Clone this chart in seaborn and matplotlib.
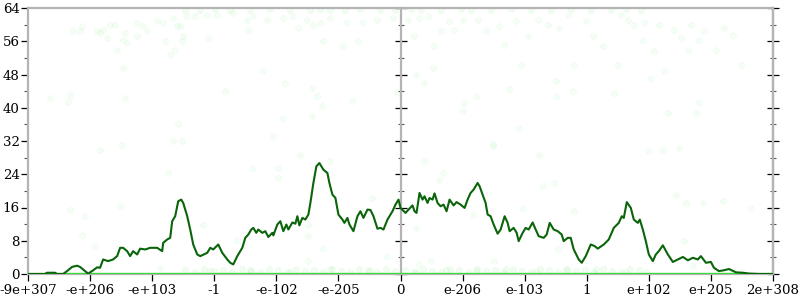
import numpy as np
import pandas as pd
import matplotlib
matplotlib.use("Agg")
import matplotlib.pyplot as plt
from matplotlib.ticker import MultipleLocator, FixedLocator
import seaborn as sns

# ---------------- data ----------------
tick_pos = [-372, -310, -248, -186, -124, -62, 0, 62, 124, 186, 248, 310, 372]
tick_labels = ["-9e+307", "-e+206", "-e+103", "-1", "-e-102", "-e-205", "0",
               "e-206", "e-103", "1", "e+102", "e+205", "2e+308"]

# density curve as (position, value) pairs
line_pts = [(-372, 0), (-355, 0), (-353, 0.3), (-345, 0.3), (-343, 0), (-337, 0),
            (-333, 0.7), (-328, 1.7), (-323, 2.0), (-320, 1.7), (-315, 0.7), (-312, 0.1),
            (-308, 0.7), (-303, 1.6), (-300, 1.5), (-297, 3.5), (-292, 3.1), (-287, 3.5),
            (-283, 4.3), (-280, 6.3), (-277, 6.3), (-273, 5.5), (-270, 4.3), (-267, 5.5),
            (-263, 4.7), (-260, 6.1), (-255, 5.9), (-250, 6.3), (-243, 6.3), (-238, 5.5),
            (-237, 7.5), (-233, 8.3), (-230, 8.7), (-228, 12.7), (-225, 13.9), (-222, 17.5),
            (-219, 17.9), (-217, 17.1), (-213, 13.9), (-210, 10.7), (-207, 7.1), (-203, 4.7),
            (-200, 4.3), (-193, 5.1), (-190, 6.3), (-187, 5.9), (-182, 7.1), (-178, 5.1),
            (-173, 3.5), (-170, 2.7), (-167, 2.3), (-163, 4.3), (-158, 6.3), (-155, 8.7),
            (-152, 9.5), (-149, 10.7), (-147, 11.1), (-144, 9.9), (-142, 10.7), (-138, 9.9),
            (-135, 10.3), (-132, 8.9), (-128, 9.9), (-127, 9.3), (-123, 11.9), (-120, 12.7),
            (-117, 10.3), (-114, 11.9), (-112, 10.7), (-108, 12.4), (-105, 12.1), (-103, 13.9),
            (-101, 11.7), (-98, 13.5), (-95, 13.1), (-92, 14.3), (-90, 17.1), (-87, 21.9),
            (-84, 25.9), (-81, 26.7), (-77, 25.1), (-73, 24.3), (-71, 21.9), (-68, 19.1),
            (-65, 18.3), (-62, 14.3), (-58, 13.1), (-56, 12.3), (-53, 13.5), (-51, 11.9),
            (-47, 10.3), (-43, 13.9), (-40, 15.1), (-37, 13.5), (-33, 15.5), (-30, 15.4),
            (-27, 13.9), (-23, 10.9), (-20, 11.1), (-17, 10.7), (-13, 13.1), (-8, 15.1),
            (-5, 16.7), (-2, 17.9), (0, 15.9), (5, 14.7), (8, 15.5), (12, 16.5), (14, 15.1),
            (16, 14.7), (19, 19.5), (22, 17.9), (24, 18.7), (27, 17.1), (29, 18.3), (32, 17.9),
            (34, 19.4), (37, 17.1), (40, 16.3), (43, 16.7), (46, 15.1), (49, 17.9), (53, 16.5),
            (56, 17.3), (60, 16.7), (64, 15.9), (67, 17.9), (70, 19.5), (73, 20.3), (77, 21.9),
            (79, 21.1), (82, 19.1), (85, 17.1), (87, 14.3), (90, 13.9), (93, 11.9), (97, 9.7),
            (100, 10.7), (104, 13.9), (107, 12.3), (109, 10.3), (113, 11.1), (116, 9.9),
            (118, 7.9), (122, 9.9), (125, 11.1), (128, 10.7), (132, 12.4), (135, 10.7),
            (138, 9.1), (143, 8.7), (146, 9.5), (149, 12.3), (153, 10.7), (157, 10.3),
            (161, 9.5), (163, 7.9), (167, 8.7), (170, 8.7), (173, 5.9), (178, 3.5), (181, 2.7),
            (185, 4.3), (190, 7.1), (194, 6.7), (197, 6.1), (203, 7.1), (208, 8.3), (213, 11.1),
            (218, 12.3), (221, 13.9), (223, 13.5), (226, 17.3), (230, 15.9), (233, 13.1),
            (237, 12.3), (239, 13.1), (242, 10.7), (245, 7.9), (248, 4.7), (252, 3.1),
            (255, 4.7), (258, 5.5), (262, 6.9), (267, 4.7), (272, 2.9), (277, 3.5), (282, 4.1),
            (287, 3.3), (292, 3.9), (297, 3.5), (300, 4.3), (305, 2.7), (310, 2.9), (313, 1.5),
            (318, 0.7), (323, 0.9), (328, 1.2), (335, 0.4), (342, 0.3), (348, 0.1), (358, 0),
            (372, 0)]

base_pos = [-372, 372]
base_val = [0, 0]

# faint sample points, as (position, value) pairs
upper_pts = [(-350, 42.4), (-330, 43.1), (-332, 41.5), (-327, 58.4), (-320, 58.4),
             (-318, 59.6), (-303, 58.4), (-300, 58.0), (-297, 58.8), (-293, 56.8),
             (-290, 60.0), (-285, 60.0), (-283, 54.0), (-277, 56.4), (-275, 58.0),
             (-273, 55.6), (-277, 49.6), (-275, 42.4), (-263, 60.4), (-263, 57.2),
             (-257, 59.6), (-253, 58.4), (-243, 60.8), (-237, 60.4), (-235, 56.0),
             (-230, 52.8), (-227, 61.6), (-225, 54.0), (-223, 59.6), (-222, 36.0),
             (-220, 59.6), (-218, 56.0), (-217, 57.2), (-213, 62.0), (-205, 62.0),
             (-193, 62.4), (-192, 56.8), (-183, 62.4), (-175, 44.0), (-167, 62.8),
             (-153, 61.2), (-152, 58.8), (-147, 62.0), (-137, 48.8), (-133, 61.2),
             (-127, 33.2), (-117, 61.6), (-117, 37.2), (-115, 46.0), (-107, 62.0),
             (-102, 59.2), (-93, 61.2), (-88, 44.8), (-88, 38.0), (-87, 60.0),
             (-83, 42.8), (-80, 60.4), (-78, 40.4), (-77, 56.0), (-70, 61.6),
             (-57, 54.8), (-53, 60.4), (-48, 41.6), (-42, 56.0), (-37, 60.4),
             (-23, 61.2), (-7, 61.6), (-3, 43.6),
             (7, 61.2), (13, 57.2), (15, 48.0), (18, 61.6), (23, 46.0), (27, 62.0),
             (32, 49.6), (33, 54.8), (40, 58.4), (48, 60.8), (53, 58.8), (62, 61.2),
             (62, 39.2), (63, 41.2), (75, 42.8), (77, 61.2), (85, 58.4), (92, 31.2),
             (98, 59.6), (103, 55.2), (108, 44.4), (115, 60.8), (118, 35.2), (120, 50.4),
             (127, 57.2), (137, 61.2), (147, 60.0), (155, 46.4), (155, 42.8), (158, 59.2),
             (167, 62.4), (172, 44.0), (173, 50.4), (185, 60.8), (192, 57.2), (202, 54.8),
             (213, 43.6), (217, 50.4), (220, 62.4), (227, 61.2), (233, 60.0), (242, 56.4),
             (243, 60.4), (250, 46.8), (253, 53.6), (258, 60.0), (263, 48.8), (267, 38.8),
             (273, 58.8), (280, 56.8), (287, 54.0), (290, 60.0), (295, 38.8), (298, 41.2),
             (298, 56.4), (303, 58.4), (315, 54.0), (323, 59.2), (332, 57.6), (340, 50.4)]

middle_pts = [(-300, 29.9), (-330, 15.5), (-315, 13.9), (-318, 9.5), (-305, 6.7),
              (-280, 16.3), (-240, 1.5), (-232, 24.3), (-227, 31.9), (-218, 31.9),
              (-197, 11.9), (-278, 31.1), (-148, 25.5), (-122, 25.5), (-122, 23.1),
              (-100, 28.7), (-92, 11.9), (-92, 9.1), (-70, 27.1), (-77, 6.3), (-92, 3.1),
              (-28, 18.3), (-13, 4.3), (-163, 8.3), (92, 30.7), (138, 28.7), (23, 27.1),
              (42, 24.3), (38, 22.7), (142, 21.1), (153, 21.9), (122, 15.9), (173, 15.1),
              (72, 14.3), (15, 11.1), (157, 5.9), (30, 3.1), (93, 3.1), (18, 2.5),
              (247, 29.5), (262, 29.9), (278, 30.3), (275, 19.1), (285, 17.1), (302, 17.1),
              (322, 17.5), (350, 15.9), (283, 7.9), (292, 1.9)]

top_edge_pts = [(-215, 63.6), (-200, 63.5), (-185, 63.7), (-170, 63.6), (-150, 63.5),
                (-130, 63.7), (-110, 63.6), (-90, 63.5), (-80, 63.7), (-70, 63.6),
                (-55, 63.5), (-40, 63.7), (-20, 63.6), (-5, 63.5), (10, 63.7),
                (20, 63.6), (40, 63.5), (60, 63.7), (70, 63.6), (90, 63.5), (110, 63.7),
                (130, 63.6), (150, 63.5), (170, 63.7), (190, 63.6), (210, 63.5),
                (225, 63.7), (240, 63.6)]

bottom_pts = [(-215, 0.9), (-205, 0.5), (-196, 1.2), (-186, 0.7), (-177, 1.0),
              (-168, 0.4), (-158, 1.3), (-149, 0.8), (-140, 0.6), (-131, 1.1),
              (-122, 0.9), (-113, 0.5), (-104, 1.2), (-95, 0.7), (-86, 1.0), (-77, 0.4),
              (-68, 1.3), (-59, 0.8), (-50, 0.6), (-41, 1.1), (-32, 0.9), (-23, 0.5),
              (-14, 1.2), (-5, 0.7), (4, 1.0), (13, 0.4), (22, 1.3), (31, 0.8), (40, 0.6),
              (49, 1.1), (58, 0.9), (67, 0.5), (76, 1.2), (85, 0.7), (94, 1.0), (103, 0.4),
              (112, 1.3), (121, 0.8), (130, 0.6), (139, 1.1), (148, 0.9), (157, 0.5),
              (166, 1.2), (175, 0.7), (184, 1.0), (193, 0.4), (202, 1.3), (211, 0.8),
              (220, 0.6), (229, 1.1), (238, 0.9), (245, 0.6), (15, 0.5), (45, 1.0),
              (75, 0.7), (105, 1.2), (135, 0.6), (165, 0.9), (195, 1.1), (225, 0.5),
              (-190, 0.8), (-150, 1.0), (-110, 0.6), (-70, 1.2), (-30, 0.8)]

# ---------------- plotting ----------------
sns.set_theme(style="white")
plt.rcParams["font.family"] = ["DejaVu Serif", "DejaVu Sans"]

fig = plt.figure(figsize=(8, 3), dpi=100)
ax = fig.add_axes([28 / 800, 26 / 300, 745 / 800, 266 / 300])

sparse_df = pd.DataFrame(upper_pts + middle_pts, columns=["pos", "val"])
sns.scatterplot(data=sparse_df, x="pos", y="val", ax=ax, color="#44ee44", alpha=0.05,
                s=18, edgecolor="#22cc22", linewidth=0.5, zorder=1, legend=False)

band_df = pd.DataFrame(top_edge_pts + bottom_pts, columns=["pos", "val"])
sns.scatterplot(data=band_df, x="pos", y="val", ax=ax, color="#44ee44", alpha=0.07,
                s=18, edgecolor="#22cc22", linewidth=0.5, zorder=1, legend=False)

base_df = pd.DataFrame({"pos": base_pos, "val": base_val})
sns.lineplot(data=base_df, x="pos", y="val", ax=ax, color="#33e033", linewidth=2.3,
             zorder=3, estimator=None, sort=False)

line_df = pd.DataFrame(line_pts, columns=["pos", "val"])
sns.lineplot(data=line_df, x="pos", y="val", ax=ax, color="#0a640a", linewidth=1.5,
             zorder=4, estimator=None, sort=False)

ax.set_xlim(-372, 372)
ax.set_ylim(0, 64)
ax.set_xlabel("")
ax.set_ylabel("")

ax.xaxis.set_major_locator(FixedLocator(tick_pos))
ax.set_xticklabels(tick_labels)
ax.yaxis.set_major_locator(MultipleLocator(8))
ax.yaxis.set_minor_locator(MultipleLocator(4))

for side in ["left", "right", "top", "bottom"]:
    ax.spines[side].set_color("#b4b4b4")
    ax.spines[side].set_linewidth(1.6)
    ax.spines[side].set_zorder(2)

ax.tick_params(axis="x", which="major", bottom=True, direction="out", length=5,
               width=0.9, color="black", labelsize=9.6, pad=2, labelcolor="black")
ax.tick_params(axis="y", which="major", left=True, direction="out", length=5,
               width=0.9, color="black", labelsize=9.6, pad=1, labelcolor="black")
ax.tick_params(axis="y", which="minor", left=True, direction="out", length=3,
               width=0.8, color="#555555")

ident = (lambda v: v, lambda v: v)
for loc in [0.5, 1.0]:
    sec = ax.secondary_yaxis(loc, functions=ident)
    sec.set_zorder(1)
    sec.yaxis.set_major_locator(MultipleLocator(8))
    sec.yaxis.set_minor_locator(MultipleLocator(4))
    for side in sec.spines:
        sec.spines[side].set_color("#b4b4b4")
        sec.spines[side].set_linewidth(1.6)
    sec.tick_params(axis="y", which="major", direction="inout", length=9, width=0.9,
                    color="black", labelleft=False, labelright=False)
    sec.tick_params(axis="y", which="minor", direction="inout", length=5, width=0.8,
                    color="#555555", labelleft=False, labelright=False)

ax.grid(False)
fig.savefig("out.png", dpi=100)
